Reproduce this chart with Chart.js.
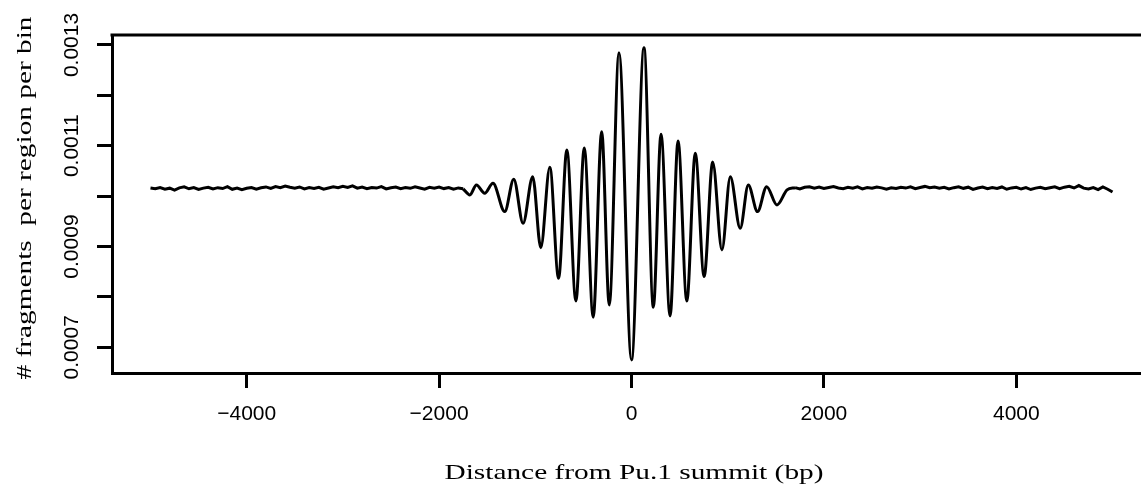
<!DOCTYPE html>
<html>
<head>
<meta charset="utf-8">
<script src="https://cdn.jsdelivr.net/npm/chart.js@4.4.1/dist/chart.umd.min.js"></script>
<style>
    html, body { margin: 0; padding: 0; background: #fff; overflow: hidden; }
    #wrap { width: 1141px; height: 484px; }
</style>
</head>
<body>
<div id="wrap"><canvas id="profile" width="1141" height="484"></canvas></div>
<script>
// flat part left of the summit, one bin every 50 bp from -5000
const leftStart = -5000;
const flatStep = 50;
const leftValues = [
    0.0010163, 0.0010148, 0.0010172, 0.0010139, 0.0010158, 0.0010121, 0.0010165, 0.0010184, 0.0010146, 0.0010170,
    0.0010132, 0.0010159, 0.0010177, 0.0010142, 0.0010168, 0.0010151, 0.0010187, 0.0010136, 0.0010162, 0.0010129,
    0.0010155, 0.0010171, 0.0010140, 0.0010166, 0.0010183, 0.0010152, 0.0010190, 0.0010168, 0.0010201, 0.0010175,
    0.0010157, 0.0010182, 0.0010145, 0.0010169, 0.0010153, 0.0010176, 0.0010138, 0.0010161, 0.0010185, 0.0010167,
    0.0010196, 0.0010172, 0.0010204, 0.0010158, 0.0010181, 0.0010149, 0.0010173, 0.0010160, 0.0010188, 0.0010143,
    0.0010166, 0.0010179, 0.0010147, 0.0010170, 0.0010155, 0.0010184, 0.0010162, 0.0010139, 0.0010174, 0.0010158,
    0.0010181, 0.0010150, 0.0010172, 0.0010137, 0.0010163, 0.0010145
];

// oscillating part around the summit (peaks and troughs)
const centerPos = [
    -1750, -1680, -1612, -1526, -1440, -1318, -1224, -1127, -1027, -943, -849, -758, -672,
    -578, -491, -398, -310, -231, -130, 0, 130, 227, 307, 401, 484,
    575, 663, 755, 844, 940, 1027, 1130, 1214, 1310, 1405, 1512, 1617, 1700
];
const centerValues = [
    0.0010145, 0.0010024, 0.0010222, 0.0010058, 0.0010256, 0.0009693, 0.0010335, 0.0009462, 0.0010387, 0.0008978, 0.0010573, 0.0008371, 0.0010917,
    0.0007921, 0.0010956, 0.0007597, 0.0011280, 0.0007841, 0.0012847, 0.0006750, 0.0012947, 0.0007796, 0.0011228, 0.0007621, 0.0011095,
    0.0007921, 0.0010851, 0.0008403, 0.0010679, 0.0008933, 0.0010387, 0.0009363, 0.0010222, 0.0009693, 0.0010188, 0.0009825, 0.0010123, 0.0010168
];

// flat part right of the summit, from 1700 to 5000
const rightStart = 1700;
const rightValues = [
    0.0010168, 0.0010142, 0.0010175, 0.0010186, 0.0010158, 0.0010179, 0.0010151, 0.0010172, 0.0010190, 0.0010163,
    0.0010148, 0.0010177, 0.0010159, 0.0010183, 0.0010145, 0.0010170, 0.0010156, 0.0010181, 0.0010164, 0.0010138,
    0.0010167, 0.0010152, 0.0010176, 0.0010160, 0.0010185, 0.0010149, 0.0010171, 0.0010193, 0.0010166, 0.0010181,
    0.0010157, 0.0010174, 0.0010142, 0.0010168, 0.0010187, 0.0010155, 0.0010178, 0.0010133, 0.0010161, 0.0010179,
    0.0010146, 0.0010169, 0.0010154, 0.0010182, 0.0010137, 0.0010163, 0.0010176, 0.0010141, 0.0010168, 0.0010131,
    0.0010159, 0.0010174, 0.0010147, 0.0010166, 0.0010185, 0.0010150, 0.0010178, 0.0010196, 0.0010162, 0.0010210,
    0.0010158, 0.0010143, 0.0010170, 0.0010129, 0.0010182, 0.0010137, 0.0010081
];

const xTickValues = [-4000, -2000, 0, 2000, 4000];
const yTickValues = [0.0007, 0.0008, 0.0009, 0.0010, 0.0011, 0.0012, 0.0013];
const yLabelValues = [0.0007, 0.0009, 0.0011, 0.0013];
const xTitle = 'Distance from Pu.1 summit (bp)';
const yTitle = '# fragments  per region per bin';

// 拼接成 {x, y} 点
const leftPoints = leftValues.map((v, i) => ({ x: leftStart + i * flatStep, y: v }));
const centerPoints = centerPos.map((p, i) => ({ x: p, y: centerValues[i] }));
const rightPoints = rightValues.map((v, i) => ({ x: rightStart + i * flatStep, y: v }));

function drawFitted(ctx, text, cx, baseY, width, angle) {
    ctx.save();
    ctx.font = '22px "Liberation Serif", "Times New Roman", serif';
    const w = ctx.measureText(text).width;
    ctx.translate(cx, baseY);
    ctx.rotate(angle);
    ctx.scale(width / w, 1);
    ctx.textAlign = 'center';
    ctx.textBaseline = 'alphabetic';
    ctx.fillStyle = '#000';
    ctx.fillText(text, 0, 0);
    ctx.restore();
}

// top frame line, rotated y labels and the two titles
const frameAndText = {
    id: 'frameAndText',
    afterDraw(chart) {
        const ctx = chart.ctx;
        const area = chart.chartArea;
        const yScale = chart.scales.y;
        ctx.save();
        ctx.strokeStyle = '#000';
        ctx.lineWidth = 3;
        ctx.beginPath();
        ctx.moveTo(area.left - 1.5, area.top);
        ctx.lineTo(area.right, area.top);
        ctx.stroke();

        ctx.fillStyle = '#000';
        ctx.font = '21px "Liberation Sans", Arial, sans-serif';
        ctx.textAlign = 'center';
        ctx.textBaseline = 'middle';
        yLabelValues.forEach(v => {
            const py = yScale.getPixelForValue(v);
            ctx.save();
            ctx.translate(72, py);
            ctx.rotate(-Math.PI / 2);
            ctx.fillText(v.toFixed(4), 0, 0);
            ctx.restore();
        });

        drawFitted(ctx, xTitle, 634, 479, 379, 0);
        drawFitted(ctx, yTitle, 31, 198, 363, -Math.PI / 2);
        ctx.restore();
    }
};

const lineStyle = {
    borderColor: '#000',
    borderWidth: 3,
    pointRadius: 0,
    fill: false
};

const config = {
    type: 'line',
    data: {
        datasets: [
            Object.assign({ data: leftPoints, tension: 0 }, lineStyle),
            Object.assign({ data: centerPoints, cubicInterpolationMode: 'monotone' }, lineStyle),
            Object.assign({ data: rightPoints, tension: 0 }, lineStyle)
        ]
    },
    options: {
        responsive: false,
        animation: false,
        devicePixelRatio: 1,
        layout: { padding: { top: 35, left: 0, right: 0, bottom: 0 } },
        plugins: {
            legend: { display: false },
            tooltip: { enabled: false }
        },
        scales: {
            x: {
                type: 'linear',
                min: -5400,
                max: 5296,
                afterBuildTicks: scale => { scale.ticks = xTickValues.map(v => ({ value: v })); },
                afterFit: scale => { scale.height = 111; },
                grid: {
                    drawOnChartArea: false,
                    drawTicks: true,
                    tickLength: 15,
                    tickWidth: 3,
                    tickColor: '#000'
                },
                border: { display: true, color: '#000', width: 3 },
                ticks: {
                    color: '#000',
                    padding: 14,
                    maxRotation: 0,
                    font: { family: '"Liberation Sans", Arial, sans-serif', size: 21 },
                    callback: v => (v < 0 ? '\u2212' + Math.abs(v) : String(v))
                }
            },
            y: {
                type: 'linear',
                min: 0.000649,
                max: 0.0013198,
                afterBuildTicks: scale => { scale.ticks = yTickValues.map(v => ({ value: v })); },
                afterFit: scale => { scale.width = 112; },
                grid: {
                    drawOnChartArea: false,
                    drawTicks: true,
                    tickLength: 15,
                    tickWidth: 3,
                    tickColor: '#000'
                },
                border: { display: true, color: '#000', width: 3 },
                ticks: { display: false }
            }
        }
    },
    plugins: [frameAndText]
};

new Chart(document.getElementById('profile'), config);
</script>
</body>
</html>
